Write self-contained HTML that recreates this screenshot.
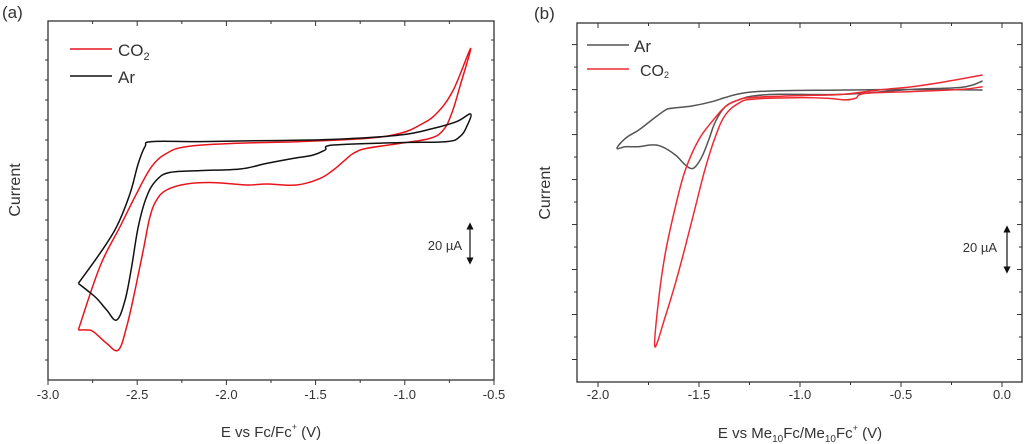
<!DOCTYPE html>
<html><head><meta charset="utf-8"><style>
html,body{margin:0;padding:0;background:#fff;}
svg{display:block;font-family:"Liberation Sans",sans-serif;}
</style></head><body>
<svg id="s" width="1024" height="444" xmlns="http://www.w3.org/2000/svg"></svg>
<script>
// Panel (a) data: [E (V vs Fc/Fc+), I (µA)]
const aCO2E=[-2.830,-2.709,-2.596,-2.503,-2.419,-2.335,-2.223,-1.961,-1.587,-1.214,-1.027,-0.915,-0.821,-0.728,-0.631,-0.691,-0.737,-0.784,-0.859,-1.027,-1.214,-1.288,-1.345,-1.401,-1.475,-1.606,-1.774,-1.886,-2.073,-2.223,-2.335,-2.391,-2.428,-2.466,-2.512,-2.559,-2.606,-2.671,-2.746,-2.783,-2.830];
const aCO2I=[-94.5,-62.8,-42.8,-26.2,-12.8,-6.2,-2.8,-1.2,-0.3,1.3,3.8,8.0,13.8,25.5,46.3,27.2,13.8,5.5,1.3,-1.2,-3.7,-6.2,-10.3,-14.5,-18.7,-22.0,-21.5,-22.0,-20.8,-21.5,-24.5,-29.5,-37.8,-54.5,-74.5,-92.8,-104.5,-101.2,-95.3,-94.5,-94.5];
const aArE=[-2.830,-2.709,-2.615,-2.540,-2.494,-2.456,-2.419,-2.148,-1.774,-1.401,-1.027,-0.840,-0.709,-0.631,-0.653,-0.691,-0.765,-1.027,-1.401,-1.447,-1.513,-1.625,-1.774,-1.924,-2.148,-2.316,-2.391,-2.447,-2.494,-2.531,-2.568,-2.615,-2.671,-2.727,-2.783,-2.830];
const aArI=[-71.2,-56.2,-42.8,-26.2,-11.2,-2.8,-0.3,-0.3,0.2,0.8,3.0,6.3,9.7,13.5,7.2,2.2,-0.3,-0.8,-2.0,-4.5,-7.0,-8.7,-11.2,-14.0,-14.8,-15.7,-19.5,-27.8,-42.8,-62.8,-79.5,-89.5,-84.5,-78.7,-74.5,-71.2];
// Panel (b) data: [E (V vs Me10Fc/Me10Fc+), I (µA)]
const bArE=[-0.096,-0.446,-0.776,-1.106,-1.271,-1.370,-1.436,-1.535,-1.634,-1.667,-1.733,-1.799,-1.865,-1.906,-1.865,-1.799,-1.733,-1.683,-1.617,-1.576,-1.543,-1.518,-1.485,-1.452,-1.419,-1.370,-1.304,-1.238,-1.106,-0.776,-0.446,-0.198,-0.096];
const bArI=[0,0.3,0,-0.3,-1.2,-3.3,-5.2,-7.1,-8.1,-8.9,-13.3,-17.8,-21.5,-25.9,-25.2,-25.2,-24.4,-25.2,-28.9,-32.6,-34.8,-34.1,-29.6,-22.2,-14.1,-7.4,-4.4,-2.7,-1.9,-1.9,0.3,1.2,4.0];
const bCO2E=[-0.096,-0.281,-0.446,-0.611,-0.776,-0.858,-1.023,-1.238,-1.304,-1.370,-1.436,-1.502,-1.568,-1.617,-1.667,-1.700,-1.719,-1.667,-1.617,-1.568,-1.518,-1.469,-1.419,-1.370,-1.304,-1.238,-1.023,-0.858,-0.776,-0.726,-0.677,-0.446,-0.198,-0.096];
const bCO2I=[6.7,3.7,1.5,0,-1.8,-2.2,-2.5,-3.3,-4.4,-7.4,-14.1,-22.2,-35.6,-51.9,-72.6,-93.3,-114.1,-100.7,-85.9,-69.6,-51.9,-34.8,-20.7,-11.1,-5.9,-4.1,-3.4,-3.7,-4.4,-3.7,-1.5,-0.7,0.3,1.5];
const aXTicks=["-3.0","-2.5","-2.0","-1.5","-1.0","-0.5"];
const bXTicks=["-2.0","-1.5","-1.0","-0.5","0.0"];

const S=document.getElementById('s');
const NS='http://www.w3.org/2000/svg';
function mk(tag,attrs,parent){const e=document.createElementNS(NS,tag);for(const k in attrs)e.setAttribute(k,attrs[k]);(parent||S).appendChild(e);return e;}
function scale(d0,d1,r0,r1){return v=>r0+(v-d0)/(d1-d0)*(r1-r0);}
function smooth(p){ // Catmull-Rom to cubic bezier
  let d='M'+p[0][0].toFixed(1)+','+p[0][1].toFixed(1);
  for(let i=0;i<p.length-1;i++){const p0=p[i-1]||p[i],p1=p[i],p2=p[i+1],p3=p[i+2]||p2;const t=0.18;
    const c1=[p1[0]+(p2[0]-p0[0])*t,p1[1]+(p2[1]-p0[1])*t],c2=[p2[0]-(p3[0]-p1[0])*t,p2[1]-(p3[1]-p1[1])*t];
    d+=' C'+c1.map(v=>v.toFixed(1))+' '+c2.map(v=>v.toFixed(1))+' '+p2[0].toFixed(1)+','+p2[1].toFixed(1);}
  return d;}

function panel(o){
  const g=mk('g',{});
  
  
  const X=scale(o.xd[0],o.xd[1],o.L,o.R), Y=scale(o.yd[0],o.yd[1],o.B,o.T);
  const fr=mk('rect',{x:o.L,y:o.T,width:o.R-o.L,height:o.B-o.T,fill:'none',stroke:'#333','stroke-width':1.3},g);
  
  
  for(let i=0;;i++){const v=o.xt0+i*o.xstep/2; if(v>o.xd[1]+1e-9)break; const px=X(v); const maj=i%2==0; const len=maj?5:3;
    const t=mk('line',{x1:px,x2:px,y1:o.B,y2:o.B+len,stroke:'#333','stroke-width':1},g);
    
    
    mk('line',{x1:px,x2:px,y1:o.T,y2:o.T+len,stroke:'#333','stroke-width':1},g);
  }
  o.xlabels.forEach((s,i)=>{const px=X(o.xt0+i*o.xstep);
    const t=mk('text',{x:px,y:399,'text-anchor':'middle','font-size':13,fill:'#333'},g);t.textContent=s;
    
    });
  for(let v=o.yd[0]+10;v<o.yd[1]-1e-9;v+=10){const py=Y(v);const maj=Math.round(v)%20==0;const len=maj?5:3;
    const t=mk('line',{x1:o.L-len,x2:o.L,y1:py,y2:py,stroke:'#333','stroke-width':1},g);
    
    
    mk('line',{x1:o.R-len,x2:o.R,y1:py,y2:py,stroke:'#333','stroke-width':1},g);}
  o.series.forEach(s=>{const pts=s.E.map((e,i)=>[X(e),Y(s.I[i])]);
    const p=mk('path',{d:smooth(pts),fill:'none',stroke:s.c,'stroke-width':1.5,'stroke-linejoin':'round'},g);
    
    });
  return g;
}
panel({name:'panel-a',L:48,R:494,T:21,B:380,xd:[-3,-0.5],yd:[-119.5,60],xt0:-3,xstep:0.5,xlabels:aXTicks,
  series:[{E:aCO2E,I:aCO2I,c:'#e8141c',n:'co2-curve-a'},{E:aArE,I:aArI,c:'#111',n:'ar-curve-a'}]});
panel({name:'panel-b',L:577,R:1022,T:23,B:382,xd:[-2.104,0.099],yd:[-129.8,29.8],xt0:-2,xstep:0.5,xlabels:bXTicks,
  series:[{E:bArE,I:bArI,c:'#555',n:'ar-curve-b'},{E:bCO2E,I:bCO2I,c:'#ee2a33',n:'co2-curve-b'}]});
</script>
<svg width="1024" height="444" style="position:absolute;left:0;top:0" xmlns="http://www.w3.org/2000/svg">
<defs><marker id="ar" markerWidth="6" markerHeight="6" refX="3" refY="3" orient="auto-start-reverse"><path d="M0,0 L6,3 L0,6 z" fill="#111"/></marker></defs>
<g font-family="Liberation Sans, sans-serif" fill="#333">
<text x="2" y="18" font-size="17">(a)</text>
<text x="534" y="19" font-size="17">(b)</text>
<text transform="translate(20,190) rotate(-90)" text-anchor="middle" font-size="16">Current</text>
<text transform="translate(550,193) rotate(-90)" text-anchor="middle" font-size="16">Current</text>
<text x="271" y="437" text-anchor="middle" font-size="15">E vs Fc/Fc<tspan font-size="9" dy="-7">+</tspan><tspan dy="7"> (V)</tspan></text>
<text x="800" y="438" text-anchor="middle" font-size="15">E vs Me<tspan font-size="10" dy="4">10</tspan><tspan dy="-4">Fc/Me</tspan><tspan font-size="10" dy="4">10</tspan><tspan dy="-4">Fc</tspan><tspan font-size="9" dy="-7">+</tspan><tspan dy="7"> (V)</tspan></text>
<g>
<line x1="70" y1="49" x2="112" y2="49" stroke="#e8141c" stroke-width="1.6"/>
<text x="118" y="56" font-size="17">CO<tspan font-size="11" dy="4">2</tspan></text>
<line x1="70" y1="76" x2="112" y2="76" stroke="#111" stroke-width="1.6"/>
<text x="118" y="83" font-size="17">Ar</text>
</g>
<g>
<line x1="587" y1="45" x2="629" y2="45" stroke="#555" stroke-width="1.6"/>
<text x="634" y="52" font-size="17">Ar</text>
<line x1="587" y1="69" x2="629" y2="69" stroke="#ee2a33" stroke-width="1.6"/>
<text x="640" y="76" font-size="16">CO<tspan font-size="9" dy="2">2</tspan></text>
</g>
<g>
<line x1="470" y1="226" x2="470" y2="261" stroke="#111" stroke-width="1.2" marker-start="url(#ar)" marker-end="url(#ar)"/>
<text x="462" y="250" text-anchor="end" font-size="13">20 µA</text>
</g>
<g>
<line x1="1007" y1="229" x2="1007" y2="270" stroke="#111" stroke-width="1.2" marker-start="url(#ar)" marker-end="url(#ar)"/>
<text x="997" y="252" text-anchor="end" font-size="13">20 µA</text>
</g>
</g>
</svg>
</body></html>
